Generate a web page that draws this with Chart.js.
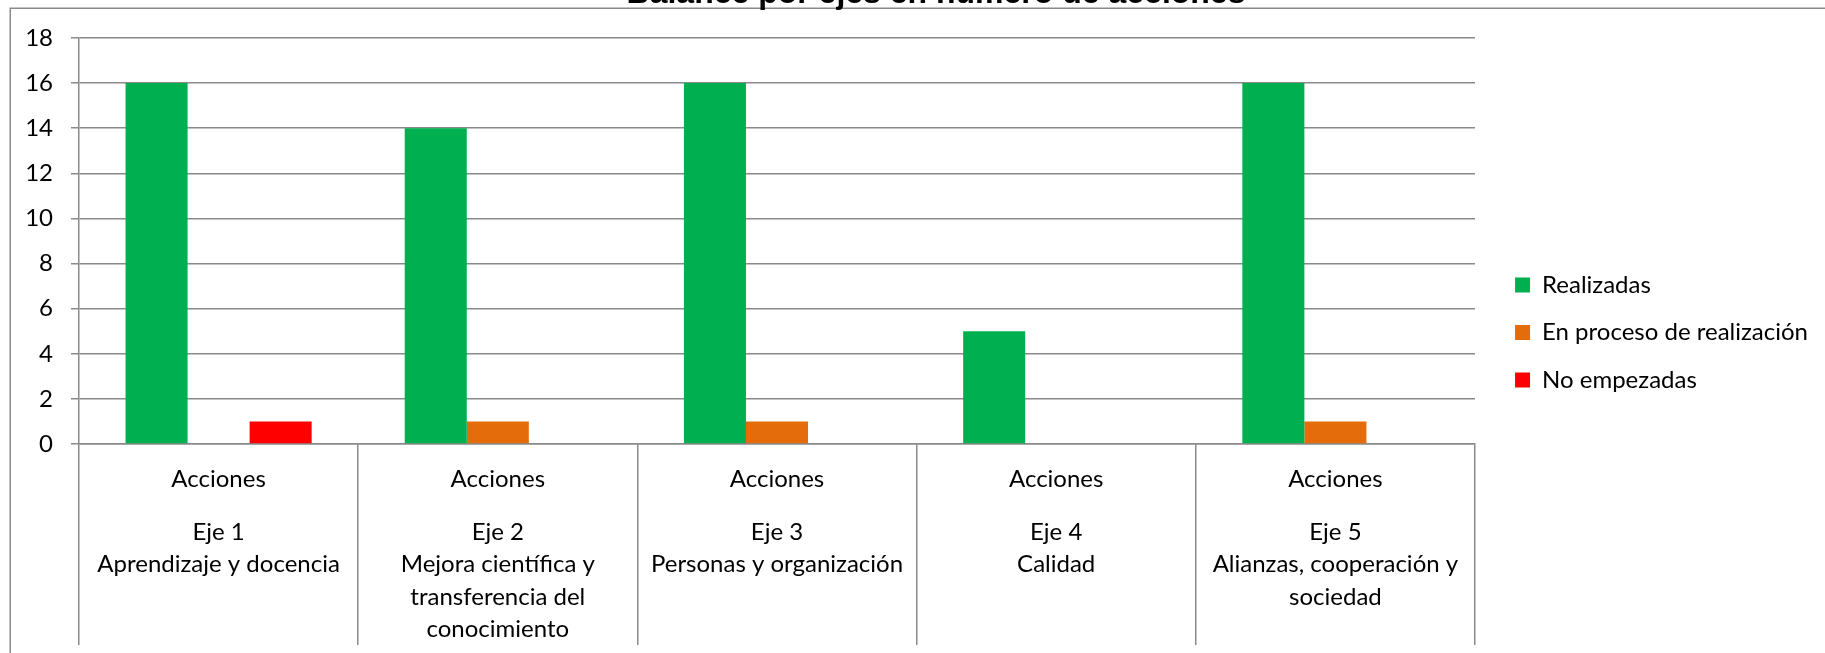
<!DOCTYPE html>
<html>
<head>
<meta charset="utf-8">
<script src="https://cdn.jsdelivr.net/npm/chart.js@4"></script>
<style>
  html, body { margin: 0; padding: 0; background: #ffffff; overflow: hidden; }
  #wrap { position: relative; width: 1825px; height: 653px; }
  canvas { display: block; }
</style>
</head>
<body>
<div id="wrap"><canvas id="c" width="1825" height="653"></canvas></div>
<script>
// ---- data ----
const chartTitle = "Balance por ejes en número de acciones";
const innerLabels = ["Acciones", "Acciones", "Acciones", "Acciones", "Acciones"];
const groupLabels = [
  ["Eje 1", "Aprendizaje y docencia"],
  ["Eje 2", "Mejora científica y", "transferencia del", "conocimiento"],
  ["Eje 3", "Personas y organización"],
  ["Eje 4", "Calidad"],
  ["Eje 5", "Alianzas, cooperación y", "sociedad"]
];
const seriesNames = ["Realizadas", "En proceso de realización", "No empezadas"];
const realizadas = [16, 14, 16, 5, 16];
const enProceso = [0, 1, 1, 0, 1];
const noEmpezadas = [1, 0, 0, 0, 0];
const yTicks = [0, 2, 4, 6, 8, 10, 12, 14, 16, 18];

const seriesColors = ["#00B050", "#E46C0A", "#FF0000"];
const gridColor = "#8a8a8a";
const labelFont = { family: "Lato", size: 24 };
const catFont = { family: "Lato", size: 24, lineHeight: "32.5px" };
const padRight = 7;

const frame = {
  id: "frame",
  beforeDraw(chart) {
    const ctx = chart.ctx;
    ctx.save();
    ctx.strokeStyle = gridColor;
    ctx.lineWidth = 1.5;
    ctx.strokeRect(10.25, 8.25, 2000, 1000);
    ctx.restore();
  }
};

// the title is centred on the whole (wider, cropped) chart object
const titleShift = {
  id: "titleShift",
  afterLayout(chart) {
    const t = chart.titleBlock;
    if (t) { const d = 936 - (t.left + t.right) / 2; t.left += d; t.right += d; }
  }
};

new Chart(document.getElementById("c"), {
  type: "bar",
  data: {
    labels: innerLabels,
    datasets: [
      { label: seriesNames[0], data: realizadas, backgroundColor: seriesColors[0] },
      { label: seriesNames[1], data: enProceso, backgroundColor: seriesColors[1] },
      { label: seriesNames[2], data: noEmpezadas, backgroundColor: seriesColors[2] }
    ]
  },
  options: {
    responsive: false,
    animation: false,
    devicePixelRatio: 1,
    layout: { padding: { left: 0, right: padRight, top: 0, bottom: -12 } },
    datasets: {
      bar: { barPercentage: 1, categoryPercentage: 2 / 3, borderWidth: 0 }
    },
    scales: {
      x: {
        type: "category",
        labels: innerLabels,
        position: "bottom",
        offset: true,
        grid: { display: true, drawOnChartArea: false, drawTicks: true, tickLength: 60, color: gridColor, lineWidth: 1.5, offset: true },
        border: { display: true, color: gridColor, width: 1.5 },
        ticks: { autoSkip: false, maxRotation: 0, minRotation: 0, color: "#000", font: catFont, padding: -41.25 },
        afterFit(s) { s.height = 60; }
      },
      x2: {
        type: "category",
        labels: groupLabels,
        position: "bottom",
        offset: true,
        grid: { display: true, drawOnChartArea: false, drawTicks: true, tickLength: 141, color: gridColor, lineWidth: 1.5, offset: true },
        border: { display: false },
        ticks: { autoSkip: false, maxRotation: 0, minRotation: 0, color: "#000", font: catFont, padding: -129.25 },
        afterFit(s) { s.height = 161; }
      },
      y: {
        position: "left",
        min: 0,
        max: 18,
        afterBuildTicks(s) { s.ticks = yTicks.map(v => ({ value: v })); },
        grid: { color: gridColor, lineWidth: 1.5, tickLength: 8 },
        border: { display: true, color: gridColor, width: 1.5 },
        ticks: { color: "#000", font: labelFont, padding: 18 },
        afterFit(s) { s.width = 79; }
      },
      gap: {
        type: "linear",
        position: "right",
        display: true,
        grid: { display: false, drawTicks: false },
        border: { display: false },
        ticks: { display: false },
        afterFit(s) {
          const lw = (s.chart.legend && s.chart.legend.width) ? s.chart.legend.width : 331.5;
          s.width = Math.max(0, 1825 - padRight - lw - 1475);
        }
      }
    },
    plugins: {
      title: {
        display: true,
        text: chartTitle,
        color: "#000",
        font: { family: "Liberation Sans", size: 32, weight: "bold", lineHeight: 1.2 },
        padding: { top: -24.7, bottom: 24.3 }
      },
      legend: {
        position: "right",
        align: "center",
        maxWidth: 331.5,
        labels: {
          boxWidth: 15,
          boxHeight: 15,
          padding: 23.5,
          color: "#000",
          font: labelFont
        }
      },
      tooltip: { enabled: false }
    }
  },
  plugins: [frame, titleShift]
});
</script>
</body>
</html>
